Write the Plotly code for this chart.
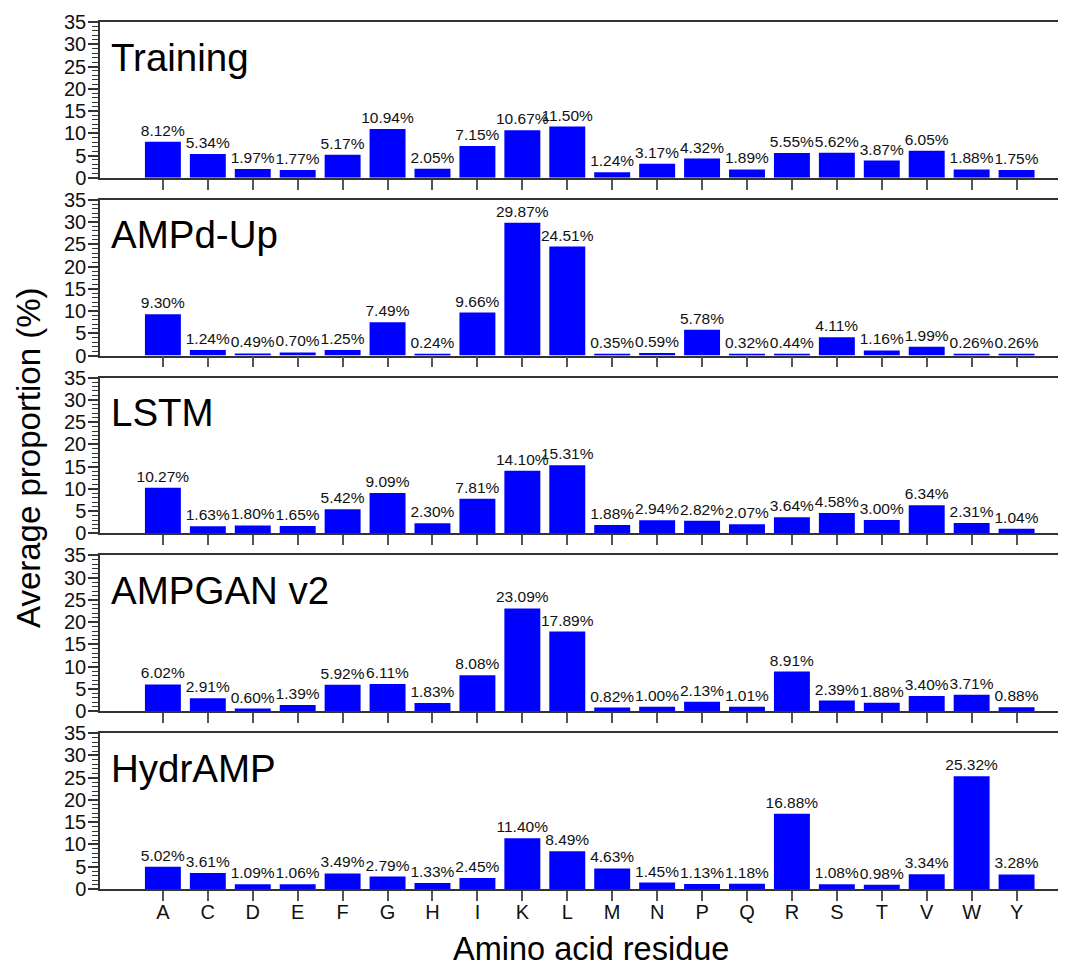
import plotly.graph_objects as go
from plotly.subplots import make_subplots

residues = ["A", "C", "D", "E", "F", "G", "H", "I", "K", "L",
            "M", "N", "P", "Q", "R", "S", "T", "V", "W", "Y"]

model_names = ["Training", "AMPd-Up", "LSTM", "AMPGAN v2", "HydrAMP"]

training = [8.12, 5.34, 1.97, 1.77, 5.17, 10.94, 2.05, 7.15, 10.67, 11.50,
            1.24, 3.17, 4.32, 1.89, 5.55, 5.62, 3.87, 6.05, 1.88, 1.75]
ampd_up = [9.30, 1.24, 0.49, 0.70, 1.25, 7.49, 0.24, 9.66, 29.87, 24.51,
           0.35, 0.59, 5.78, 0.32, 0.44, 4.11, 1.16, 1.99, 0.26, 0.26]
lstm = [10.27, 1.63, 1.80, 1.65, 5.42, 9.09, 2.30, 7.81, 14.10, 15.31,
        1.88, 2.94, 2.82, 2.07, 3.64, 4.58, 3.00, 6.34, 2.31, 1.04]
ampgan_v2 = [6.02, 2.91, 0.60, 1.39, 5.92, 6.11, 1.83, 8.08, 23.09, 17.89,
             0.82, 1.00, 2.13, 1.01, 8.91, 2.39, 1.88, 3.40, 3.71, 0.88]
hydramp = [5.02, 3.61, 1.09, 1.06, 3.49, 2.79, 1.33, 2.45, 11.40, 8.49,
           4.63, 1.45, 1.13, 1.18, 16.88, 1.08, 0.98, 3.34, 25.32, 3.28]

series = [training, ampd_up, lstm, ampgan_v2, hydramp]

FONT = "Liberation Sans, Arial, sans-serif"
OFF = 8  # page body margin
W, H = 1066 - OFF, 966 - OFF
ML, MR, MT = 100 - OFF, 0, 22 - OFF
PLOT_BOTTOM = 889 - OFF
MB = H - PLOT_BOTTOM
plot_w = W - ML - MR
plot_h = H - MT - MB
gap = 22

fig = make_subplots(rows=5, cols=1, shared_xaxes=True,
                    vertical_spacing=gap / plot_h)

for i, (name, vals) in enumerate(zip(model_names, series), start=1):
    fig.add_trace(go.Bar(
        x=residues, y=vals, name=name,
        marker=dict(color="#0000FF", line=dict(width=0)),
        text=[f"{v:.2f}%" for v in vals],
        textposition="outside", constraintext="none", cliponaxis=False,
        textfont=dict(family=FONT, size=15.5, color="#111111"),
        showlegend=False,
    ), row=i, col=1)
    fig.add_annotation(
        text=name, xref="x domain" if i == 1 else f"x{i} domain",
        yref="y domain" if i == 1 else f"y{i} domain",
        x=0.009, y=0.775, xanchor="left", yanchor="middle",
        showarrow=False, font=dict(family=FONT, size=38.5, color="#000000"),
    )

fig.update_yaxes(
    range=[0, 35], dtick=5, tick0=0,
    ticks="outside", ticklen=10, tickwidth=1.5, tickcolor="#333333",
    minor=dict(dtick=1, ticks="outside", ticklen=6, tickwidth=1, tickcolor="#333333"),
    showline=True, linecolor="#333333", linewidth=1.5,
    showgrid=False, zeroline=False,
    ticklabelstandoff=-2,
    tickfont=dict(family=FONT, size=20, color="#111111"),
)
fig.update_xaxes(
    type="category", range=[-1.4, 20.1],
    ticks="outside", ticklen=10, tickwidth=1.5, tickcolor="#555555",
    showline=True, mirror=True, linecolor="#333333", linewidth=1.5,
    showgrid=False, zeroline=False,
    ticklabelstandoff=-6,
    tickfont=dict(family=FONT, size=20, color="#111111"),
)

fig.add_annotation(
    text="Average proportion (%)", xref="paper", yref="paper",
    x=(28 - OFF - ML) / plot_w, y=(PLOT_BOTTOM - (458 - OFF)) / plot_h,
    textangle=-90, xanchor="center", yanchor="middle", showarrow=False,
    font=dict(family=FONT, size=33, color="#000000"),
)
fig.add_annotation(
    text="Amino acid residue", xref="paper", yref="paper",
    x=(591 - OFF - ML) / plot_w, y=-((949 - OFF) - PLOT_BOTTOM) / plot_h,
    xanchor="center", yanchor="middle", showarrow=False, borderpad=0,
    font=dict(family=FONT, size=32.5, color="#000000"),
)

fig.update_layout(
    width=W, height=H,
    margin=dict(l=ML, r=MR, t=MT, b=MB),
    paper_bgcolor="white", plot_bgcolor="white",
    bargap=0.2,
    font=dict(family=FONT),
)

fig.write_html("out.html")
